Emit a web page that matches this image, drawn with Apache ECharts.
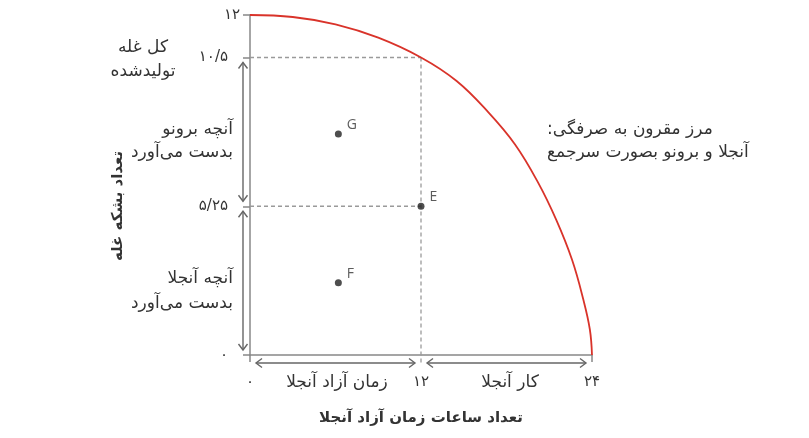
<!DOCTYPE html>
<html>
<head>
<meta charset="utf-8">
<script src="https://cdn.jsdelivr.net/npm/echarts@6/dist/echarts.min.js"></script>
<style>
html,body{margin:0;padding:0;background:#fff;}
#chart{width:809px;height:438px;}
</style>
</head>
<body>
<div id="chart"></div>
<script>
// ---- data ----
const curveX = [0, 3, 6, 9, 12, 14.5, 16.7, 18.6, 20.2, 21.5, 22.6, 23.4, 23.85, 24];
const curveY = [12, 11.93, 11.67, 11.2, 10.5, 9.67, 8.58, 7.43, 6.1, 4.76, 3.36, 1.94, 0.9, 0];

const pointNames = ['E', 'G', 'F'];
const pointX = [12, 6.2, 6.2];
const pointY = [5.25, 7.8, 2.55];

const xTickValues = [0, 12, 24];
const xTickLabels = ['۰', '۱۲', '۲۴'];
const yTickValues = [0, 5.25, 10.5, 12];
const yTickLabels = ['۰', '۵/۲۵', '۱۰/۵', '۱۲'];

// guide lines [x1, y1, x2, y2]
const guideLines = [[0, 10.5, 12, 10.5], [12, 10.5, 12, 0], [0, 5.25, 12, 5.25]];
// bracket arrows [x1, y1, x2, y2]
const yArrows = [[0, 10.5, 0, 5.25], [0, 5.25, 0, 0]];
const xArrows = [[0, 0, 12, 0], [12, 0, 24, 0]];

const FONT = '"DejaVu Sans", sans-serif';
const TXT = '#333';

const chart = echarts.init(document.getElementById('chart'));

function arrowItem(api, offX, offY, gap) {
  const p1 = api.coord([api.value(0), api.value(1)]);
  const p2 = api.coord([api.value(2), api.value(3)]);
  const dx = p2[0] - p1[0], dy = p2[1] - p1[1];
  const len = Math.sqrt(dx * dx + dy * dy);
  const d = [dx / len, dy / len];
  const n = [-d[1], d[0]];
  const a = [p1[0] + offX + d[0] * gap, p1[1] + offY + d[1] * gap];
  const b = [p2[0] + offX - d[0] * gap, p2[1] + offY - d[1] * gap];
  const L = 6, W = 4.5;
  const style = { stroke: '#666', lineWidth: 1.4, fill: null };
  return {
    type: 'group',
    children: [
      { type: 'line', shape: { x1: a[0], y1: a[1], x2: b[0], y2: b[1] }, style: style },
      { type: 'polyline', shape: { points: [[a[0] + d[0] * L + n[0] * W, a[1] + d[1] * L + n[1] * W], a, [a[0] + d[0] * L - n[0] * W, a[1] + d[1] * L - n[1] * W]] }, style: style },
      { type: 'polyline', shape: { points: [[b[0] - d[0] * L + n[0] * W, b[1] - d[1] * L + n[1] * W], b, [b[0] - d[0] * L - n[0] * W, b[1] - d[1] * L - n[1] * W]] }, style: style }
    ]
  };
}

const option = {
  animation: false,
  backgroundColor: '#fff',
  grid: { left: 250, right: 217, top: 15, bottom: 83 },
  xAxis: {
    type: 'value', min: 0, max: 24, interval: 12,
    name: 'تعداد ساعات زمان آزاد آنجلا',
    nameLocation: 'middle', nameGap: 56,
    nameTextStyle: { fontFamily: FONT, fontSize: 15, fontWeight: 'bold', color: TXT },
    axisLine: { lineStyle: { color: '#888', width: 1.5 } },
    axisTick: { show: true, customValues: [0, 24], length: 7, lineStyle: { color: '#888', width: 1.5 } },
    axisLabel: {
      margin: 20, fontFamily: FONT, fontSize: 15, color: TXT,
      formatter: v => { const i = xTickValues.indexOf(v); return i >= 0 ? xTickLabels[i] : ''; }
    },
    splitLine: { show: false }
  },
  yAxis: {
    type: 'value', min: 0, max: 12, interval: 12,
    axisLine: { lineStyle: { color: '#888', width: 1.5 } },
    axisTick: { show: true, customValues: yTickValues, length: 7, lineStyle: { color: '#888', width: 1.5 } },
    axisLabel: {
      customValues: yTickValues,
      margin: 10, fontFamily: FONT, fontSize: 15, color: TXT,
      formatter: v => {
        const i = yTickValues.indexOf(v);
        if (i < 0) return '';
        return v === 12 ? '{n|' + yTickLabels[i] + '}' : '{w|' + yTickLabels[i] + '}';
      },
      rich: {
        n: { fontFamily: FONT, fontSize: 15, color: TXT },
        w: { fontFamily: FONT, fontSize: 15, color: TXT, padding: [0, 12, 0, 0] }
      }
    },
    splitLine: { show: false }
  },
  series: [
    {
      type: 'custom', name: 'guides', silent: true, clip: false,
      encode: { x: [0, 2], y: [1, 3] },
      data: guideLines,
      renderItem: (params, api) => {
        const p1 = api.coord([api.value(0), api.value(1)]);
        const p2 = api.coord([api.value(2), api.value(3)]);
        if (api.value(3) === 0 && api.value(0) === api.value(2)) p2[1] += 8;
        return { type: 'line', shape: { x1: p1[0], y1: p1[1], x2: p2[0], y2: p2[1] },
          style: { stroke: '#9a9a9a', lineWidth: 1.3, lineDash: [4, 3] } };
      },
      z: 1
    },
    {
      type: 'line', name: 'frontier', data: curveX.map((x, i) => [x, curveY[i]]),
      smooth: 0.4, showSymbol: false, symbol: 'none',
      lineStyle: { color: '#d9332a', width: 1.8 }, z: 3
    },
    {
      type: 'custom', name: 'yArrows', silent: true, clip: false,
      encode: { x: [0, 2], y: [1, 3] },
      data: yArrows,
      renderItem: (params, api) => arrowItem(api, -7, 0, 5)
    },
    {
      type: 'custom', name: 'xArrows', silent: true, clip: false,
      encode: { x: [0, 2], y: [1, 3] },
      data: xArrows,
      renderItem: (params, api) => arrowItem(api, 0, 8, 6)
    },
    {
      type: 'scatter', name: 'points',
      data: pointX.map((x, i) => ({ value: [x, pointY[i]], name: pointNames[i] })),
      symbolSize: 7, itemStyle: { color: '#222' }, z: 5,
      label: { show: true, position: 'right', distance: 5, offset: [0, -9], formatter: p => p.name,
        fontFamily: '"Open Sans", sans-serif', fontSize: 14, color: TXT }
    }
  ],
  graphic: [
    { type: 'text', x: 118, y: 206, rotation: Math.PI / 2, style: { text: 'تعداد بشکه غله', fontFamily: FONT, fontSize: 15, fontWeight: 'bold', fill: TXT, textAlign: 'center', textVerticalAlign: 'middle' } },
    { type: 'text', x: 143, y: 36, style: { text: 'کل غله\nتولیدشده', fontFamily: FONT, fontSize: 17, lineHeight: 24, fill: TXT, textAlign: 'center' } },
    { type: 'text', x: 233, y: 118, style: { text: 'آنچه برونو\nبدست می‌آورد', fontFamily: FONT, fontSize: 17, lineHeight: 23, fill: TXT, textAlign: 'right' } },
    { type: 'text', x: 233, y: 266, style: { text: 'آنچه آنجلا\nبدست می‌آورد', fontFamily: FONT, fontSize: 17, lineHeight: 25, fill: TXT, textAlign: 'right' } },
    { type: 'text', x: 547, y: 118, style: { text: 'مرز مقرون به صرفگی:\u200F\nآنجلا و برونو بصورت سرجمع', fontFamily: FONT, fontSize: 17, lineHeight: 23, fill: TXT, textAlign: 'left' } },
    { type: 'text', x: 337, y: 383, style: { text: 'زمان آزاد آنجلا', fontFamily: FONT, fontSize: 17, fill: TXT, textAlign: 'center', textVerticalAlign: 'middle' } },
    { type: 'text', x: 510, y: 383, style: { text: 'کار آنجلا', fontFamily: FONT, fontSize: 17, fill: TXT, textAlign: 'center', textVerticalAlign: 'middle' } }
  ]
};
chart.setOption(option);
</script>
</body>
</html>
